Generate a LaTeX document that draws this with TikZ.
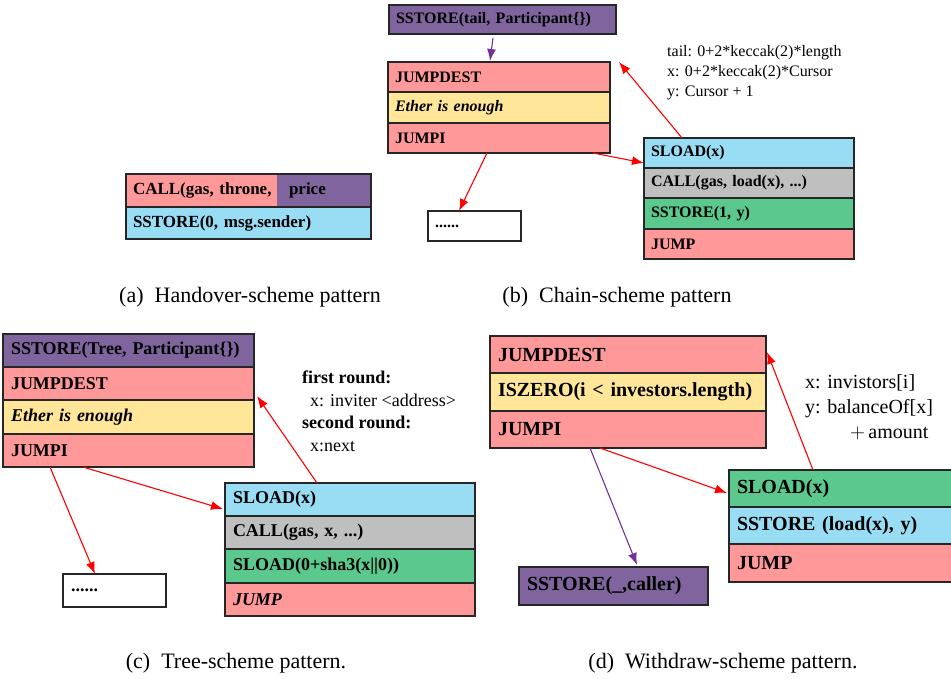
\documentclass[tikz,border=0pt]{standalone}
\usepackage{fontspec}
\setmainfont{Liberation Serif}
\usetikzlibrary{arrows.meta}

\definecolor{cpink}{RGB}{255,153,153}
\definecolor{cyellow}{RGB}{255,230,153}
\definecolor{cblue}{RGB}{153,221,245}
\definecolor{cgray}{RGB}{191,191,191}
\definecolor{cgreen}{RGB}{91,201,141}
\definecolor{cpurple}{RGB}{128,100,158}
\definecolor{carrowpurple}{RGB}{112,48,160}

\begin{document}
\begin{tikzpicture}[x=1pt,y=-1pt]
        \tikzstyle{row}=[draw=black!85,line width=1.1pt,anchor=north west,outer sep=0pt,inner xsep=7pt,inner ysep=0pt,align=left]
        \tikzstyle{rowa}=[row,font=\bfseries\fontsize{17}{20}\selectfont]
        \tikzstyle{rowb}=[row,font=\bfseries\fontsize{16}{19}\selectfont]
        \tikzstyle{rowc}=[row,inner xsep=8pt,font=\bfseries\fontsize{18}{21}\selectfont]
        \tikzstyle{rowd}=[row,inner xsep=8pt,font=\bfseries\fontsize{20}{23}\selectfont]
        \tikzstyle{note}=[anchor=north west,inner sep=0pt,align=left]
        \tikzstyle{caption}=[anchor=base,inner sep=0pt,font=\fontsize{22}{26}\selectfont]
        \tikzstyle{redarrow}=[red,line width=1.1pt,-{Latex[length=12pt,width=9pt]}]
        \tikzstyle{purplearrow}=[carrowpurple,line width=1.1pt,-{Latex[length=12pt,width=9pt]}]

        \useasboundingbox (0,0) rectangle (951,679);

        % (a) handover
        \node[rowa,fill=cpink,text width=231pt,minimum height=33pt] (a-call) at (126,174) {CALL(gas, throne,};
        \node[rowa,draw=none,fill=cpurple,inner xsep=12pt,text width=70pt,minimum height=33pt] (a-price) at (277,174) {price};
        \draw[black!85,line width=1.1pt] (a-call.north west) rectangle (a-call.south east);
        \node[rowa,fill=cblue,text width=231pt,minimum height=32pt] (a-sstore) at (126,207) {SSTORE(0, msg.sender)};

        % (b) chain
        \node[rowb,fill=cpurple,text width=213pt,minimum height=29pt] (b-sstore) at (389,5) {SSTORE(tail, Participant\{\})};
        \node[rowb,fill=cpink,text width=208pt,minimum height=30pt] (b-dest) at (388,62) {JUMPDEST};
        \node[rowb,fill=cyellow,text width=208pt,minimum height=31pt] (b-ether) at (388,92) {\itshape Ether is enough};
        \node[rowb,fill=cpink,text width=208pt,minimum height=30pt] (b-jumpi) at (388,123) {JUMPI};

        \node[rowb,fill=cblue,text width=196pt,minimum height=30pt] (b-sload) at (644,138) {SLOAD(x)};
        \node[rowb,fill=cgray,text width=196pt,minimum height=30pt] (b-call) at (644,168) {CALL(gas, load(x), ...)};
        \node[rowb,fill=cgreen,text width=196pt,minimum height=31pt] (b-store) at (644,198) {SSTORE(1, y)};
        \node[rowb,fill=cpink,text width=196pt,minimum height=30pt] (b-jump) at (644,229) {JUMP};

        \node[rowb,text width=79pt,minimum height=30pt] (b-dots) at (428,211) {......};

        \node[note,font=\fontsize{16}{20}\selectfont] (b-note) at (667,45) {tail: 0+2*keccak(2)*length\\x: 0+2*keccak(2)*Cursor\\y: Cursor + 1};

        \draw[purplearrow,shorten <=4pt] ([xshift=-9pt]b-sstore.south) -- ([xshift=-9pt,yshift=1pt]b-dest.north);
        \draw[redarrow] ([xshift=38pt]b-sload.north west) -- ([xshift=9pt]b-dest.north east);
        \draw[redarrow] ([xshift=205pt]b-jumpi.south west) -- ([yshift=-10pt]b-sload.west);
        \draw[redarrow] ([xshift=99pt]b-jumpi.south west) -- ([xshift=31pt]b-dots.north west);

        \node[caption] (a-cap) at (250,302) {(a)\enspace Handover-scheme pattern};
        \node[caption] (b-cap) at (617,302) {(b)\enspace Chain-scheme pattern};

        % (c) tree
        \node[rowc,fill=cpurple,text width=235pt,minimum height=33pt] (c-sstore) at (3,334) {SSTORE(Tree, Participant\{\})};
        \node[rowc,fill=cpink,text width=235pt,minimum height=33pt] (c-dest) at (3,367) {JUMPDEST};
        \node[rowc,fill=cyellow,text width=235pt,minimum height=34pt] (c-ether) at (3,400) {\itshape Ether is enough};
        \node[rowc,fill=cpink,text width=235pt,minimum height=33pt] (c-jumpi) at (3,434) {JUMPI};

        \node[rowc,fill=cblue,text width=234pt,minimum height=33pt] (c-sload) at (225,483) {SLOAD(x)};
        \node[rowc,fill=cgray,text width=234pt,minimum height=33pt] (c-call) at (225,516) {CALL(gas, x, ...)};
        \node[rowc,fill=cgreen,text width=234pt,minimum height=34pt] (c-load) at (225,549) {SLOAD(0+sha3(x||0))};
        \node[rowc,fill=cpink,text width=234pt,minimum height=33pt] (c-jump) at (225,583) {\itshape JUMP};

        \node[rowc,text width=87pt,minimum height=33pt] (c-dots) at (63,574) {......};

        \node[note,font=\fontsize{18}{22.5}\selectfont] (c-note) at (302,371) {\textbf{first round:}\\\hspace*{8pt}x: inviter <address>\\\textbf{second round:}\\\hspace*{8pt}x:next};

        \draw[redarrow] ([xshift=92pt]c-sload.north west) -- ([xshift=3pt,yshift=4pt]c-ether.north east);
        \draw[redarrow] ([xshift=80pt]c-jumpi.south west) -- ([xshift=-2pt,yshift=7pt]c-sload.south west);
        \draw[redarrow] ([xshift=47pt]c-jumpi.south west) -- ([xshift=32pt]c-dots.north west);

        % (d) withdraw
        \node[rowd,fill=cpink,text width=260pt,minimum height=37pt] (d-dest) at (490,336) {JUMPDEST};
        \node[rowd,fill=cyellow,text width=260pt,minimum height=38pt] (d-iszero) at (490,373) {ISZERO(i < investors.length)};
        \node[rowd,fill=cpink,text width=260pt,minimum height=37pt] (d-jumpi) at (490,411) {JUMPI};

        \node[rowd,fill=cgreen,text width=214pt,minimum height=37pt] (d-sload) at (729,470) {SLOAD(x)};
        \node[rowd,fill=cblue,text width=214pt,minimum height=37pt] (d-store) at (729,507) {SSTORE (load(x), y)};
        \node[rowd,fill=cpink,text width=214pt,minimum height=38pt] (d-jump) at (729,544) {JUMP};

        \node[rowd,fill=cpurple,text width=173pt,minimum height=38pt] (d-caller) at (519,567) {SSTORE(\_,caller)};

        \node[note,font=\fontsize{20}{25}\selectfont] (d-note) at (805,374) {x: invistors[i]\\y: balanceOf[x]\\\hspace*{45pt}$+$\,amount};

        \draw[redarrow] ([xshift=84pt]d-sload.north west) -- ([xshift=1pt,yshift=-16pt]d-dest.north east);
        \draw[redarrow] ([xshift=110pt]d-jumpi.south west) -- ([xshift=-2pt,yshift=-4.5pt]d-sload.west);
        \draw[purplearrow] ([xshift=100pt]d-jumpi.south west) -- ([xshift=118pt,yshift=2pt]d-caller.north west);

        \node[caption] (c-cap) at (236,668) {(c)\enspace Tree-scheme pattern.};
        \node[caption] (d-cap) at (723,668) {(d)\enspace Withdraw-scheme pattern.};

    \end{tikzpicture}
\end{document}
